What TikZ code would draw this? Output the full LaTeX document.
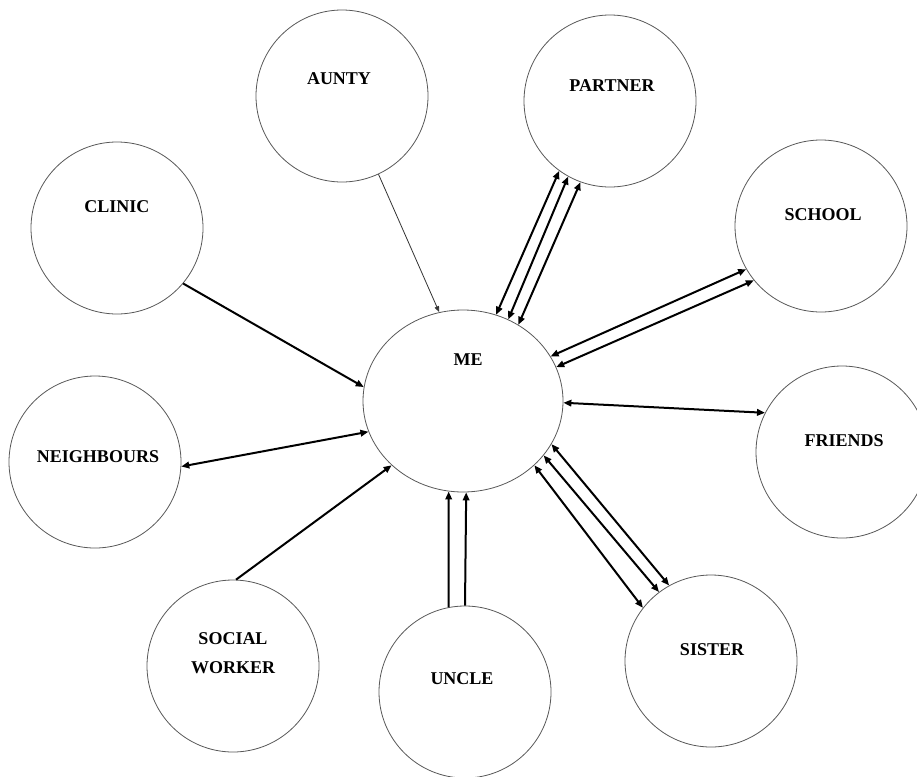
\documentclass[tikz,border=0pt]{standalone}
\usepackage{fontspec}
\setmainfont{Liberation Serif}
\usetikzlibrary{arrows.meta,shapes.geometric}
\begin{document}
\begin{tikzpicture}[x=1pt,y=-1pt,
  >={Triangle[length=8pt,width=6.5pt]},
  ring/.style={circle,draw=black!65,line width=0.8pt,minimum size=172pt,inner sep=0pt},
  mering/.style={ellipse,draw=black!65,line width=0.8pt,minimum width=200pt,minimum height=182pt,inner sep=0pt},
  lbl/.style={font=\bfseries\fontsize{18}{29}\selectfont,align=center,inner sep=0pt},
  link/.style={line width=2pt,draw=black},
  thin link/.style={line width=0.8pt,draw=black!80}
]
\useasboundingbox (0,0) rectangle (917,776);
\fill[white] (0,0) rectangle (917,776);

% circles
\node[mering] (me) at (463,401) {};
\node[ring] (aunty) at (342,96) {};
\node[ring] (clinic) at (117,228) {};
\node[ring] (partner) at (610,101) {};
\node[ring] (school) at (821,226) {};
\node[ring] (neigh) at (95,462) {};
\node[ring] (friends) at (842,452) {};
\node[ring] (social) at (233,666) {};
\node[ring] (uncle) at (465,692) {};
\node[ring] (sister) at (711,661) {};

% labels
\node[lbl] (me-t) at (468,360) {ME};
\node[lbl] (aunty-t) at (339,79) {AUNTY};
\node[lbl] (clinic-t) at (117,207) {CLINIC};
\node[lbl] (partner-t) at (612,86) {PARTNER};
\node[lbl] (school-t) at (823,215) {SCHOOL};
\node[lbl] (neigh-t) at (98,457) {NEIGHBOURS};
\node[lbl] (friends-t) at (844,441) {FRIENDS};
\node[lbl] (social-t) at (233,653) {SOCIAL\\WORKER};
\node[lbl] (uncle-t) at (462,679) {UNCLE};
\node[lbl] (sister-t) at (712,650) {SISTER};

% connectors
\draw[thin link,-{Triangle[length=6pt,width=4.5pt]}] (aunty.-65.2) -- (me.105.9);
\draw[link,->] (clinic.-40.6) -- (me.172.3);

\draw[link,<->] (partner.-126.7) -- (me.69.4);
\draw[link,<->] (partner.-119.6) -- (me.61.4);
\draw[link,<->] (partner.-110.9) -- (me.54.3);

\draw[link,<->] (school.-150.1) -- (me.27.8);
\draw[link,<->] (school.-141.1) -- (me.20.6);

\draw[link,<->] (friends.153.7) -- (me.-1.7);
\draw[link,<->] (neigh.-3.9) -- (me.-162.4);

\draw[link,->] (social.88.7) -- (me.-138.6);

\draw[link,->] (uncle.101.8) -- (me.-99.9);
\draw[link,->] (uncle.90) -- (me.-88.8);

\draw[link,<->] (sister.119.4) -- (me.-26.6);
\draw[link,<->] (sister.127.9) -- (me.-34.2);
\draw[link,<->] (sister.142.3) -- (me.-42.6);
\end{tikzpicture}
\end{document}
